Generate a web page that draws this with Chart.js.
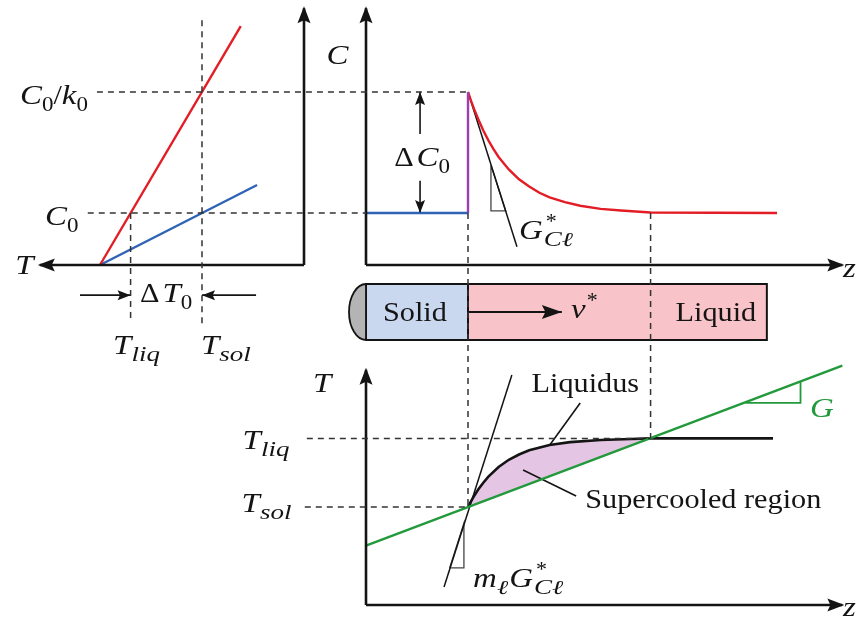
<!DOCTYPE html>
<html>
<head>
<meta charset="utf-8">
<script src="https://cdn.jsdelivr.net/npm/chart.js@4/dist/chart.umd.min.js"></script>
<style>
  html, body { margin: 0; padding: 0; background: #fff; overflow: hidden; }
  canvas { display: block; }
</style>
</head>
<body>
<canvas id="diagram" width="856" height="618"></canvas>
<script>
// ---------- Phase diagram (left): temperature T vs. concentration C (C in units of C0) ----------
const T_MELT = 10;       // melting point of the pure solvent
const C0 = 1.0;          // alloy concentration
const C0_K0 = 3.33;      // C0 / k0  (k0 = 0.3)
const T_LIQ = 8.5;       // liquidus temperature at C0
const T_SOL = 5.0;       // solidus temperature at C0
const liquidusLineT = [10, 3.1];
const liquidusLineC = [0, 4.6];
const solidusLineT = [10, 2.3];
const solidusLineC = [0, 1.54];

// ---------- Concentration profile along z (top right) ----------
const Z_INT = 1.0;       // solid/liquid interface
const Z_BL = 2.79;       // edge of the solute boundary layer
const solidProfileZ = [0, 1.0];
const solidProfileC = [1, 1];
const profileZ = [1.00, 1.03, 1.06, 1.10, 1.15, 1.20, 1.25, 1.30, 1.40, 1.50, 1.60, 1.70, 1.80, 1.95, 2.10, 2.30, 2.50, 2.79, 4.03];
const profileC = [3.33, 3.16, 3.00, 2.81, 2.59, 2.40, 2.23, 2.08, 1.84, 1.65, 1.51, 1.39, 1.30, 1.21, 1.14, 1.08, 1.05, 1.01, 1.00];
const tangentCZ = [1.0, 1.48];
const tangentCC = [3.33, 0.35];
const slopeCZ = [1.225, 1.225, 1.37, 1.225];
const slopeCC = [1.92, 1.04, 1.04, 1.92];

// ---------- Sample bar (middle) ----------
const SAMPLE_END = 3.93;
const VEL_ARROW_END = 1.92;

// ---------- Liquidus temperature ahead of the interface and imposed gradient (bottom right) ----------
const liqTZ = [1.00, 1.025, 1.05, 1.075, 1.10, 1.15, 1.20, 1.30, 1.40, 1.50, 1.60, 1.80, 2.00, 2.30, 2.60, 2.79, 3.99];
const liqTT = [5.00, 5.25, 5.48, 5.69, 5.89, 6.24, 6.55, 7.04, 7.41, 7.68, 7.89, 8.16, 8.31, 8.42, 8.47, 8.50, 8.50];
const gradZ = [0, 4.67];
const gradT = [3.03, 12.21];
const tangentTZ = [0.765, 1.43];
const tangentTT = [0.92, 11.73];
const slopeTZ = [0.82, 0.96, 0.96, 0.82];
const slopeTT = [1.89, 1.89, 4.18, 1.89];
const gSlopeZ = [3.72, 4.26, 4.26];
const gSlopeT = [10.31, 10.31, 11.43];

// ---------- colours ----------
const INK = '#141414';
const RED = '#e31d26';
const BLUE = '#2e63b6';
const PURPLE = '#9b3fb1';
const GREEN = '#22993b';
const GUIDE = '#333333';

const W = 856, H = 618;
const pts = (xs, ys) => xs.map((x, i) => ({ x, y: ys[i] }));

// linear axis placed so that value v0 falls on pixel p0 and v1 on p1
function xAxis(v0, p0, v1, p1) {
  const b = (p1 - p0) / (v1 - v0);
  if (b > 0) {
    const min = v0 - p0 / b;
    return { type: 'linear', display: false, min, max: min + W / b };
  }
  const nb = -b, max = v0 + p0 / nb;
  return { type: 'linear', display: false, reverse: true, min: max - W / nb, max };
}
function yAxis(v0, p0, v1, p1) {
  const nb = (p0 - p1) / (v1 - v0);
  const max = v0 + p0 / nb;
  return { type: 'linear', display: false, min: max - H / nb, max };
}

function line(xs, ys, xID, yID, color, width, extra) {
  return Object.assign({
    data: pts(xs, ys), xAxisID: xID, yAxisID: yID,
    borderColor: color, borderWidth: width, pointRadius: 0, fill: false,
    order: 1, clip: false
  }, extra || {});
}
const AX = { len: 17, hw: 6.5, ext: 2 };
const SMALL = { len: 13, hw: 5, ext: 0 };

const pinkZ = liqTZ.filter(z => z <= Z_BL);
const pinkT = liqTT.slice(0, pinkZ.length);

const datasets = [
  // left panel
  line([0, 12.95], [0, 0], 'xT', 'yC', INK, 2.6, { arrowHead: AX }),
  line([0, 0], [0, 4.94], 'xT', 'yC', INK, 2.6, { arrowHead: AX }),
  line(liquidusLineT, liquidusLineC, 'xT', 'yC', RED, 2.4),
  line(solidusLineT, solidusLineC, 'xT', 'yC', BLUE, 2.4),
  line([10.98, T_LIQ], [-0.58, -0.58], 'xT', 'yC', INK, 1.6, { arrowHead: SMALL }),
  line([2.35, T_SOL], [-0.58, -0.58], 'xT', 'yC', INK, 1.6, { arrowHead: SMALL }),

  // top right panel
  line([0, 0], [0, 4.94], 'xZ', 'yC', INK, 2.6, { arrowHead: AX }),
  line([0, 4.67], [0, 0], 'xZ', 'yC', INK, 2.6, { arrowHead: AX }),
  line(solidProfileZ, solidProfileC, 'xZ', 'yC', BLUE, 2.4),
  line([Z_INT, Z_INT], [C0, C0_K0], 'xZ', 'yC', PURPLE, 2.4),
  line(profileZ, profileC, 'xZ', 'yC', RED, 2.4),
  line(tangentCZ, tangentCC, 'xZ', 'yC', INK, 1.5),
  line(slopeCZ, slopeCC, 'xZ', 'yC', '#444', 1.3),
  line([0.53, 0.53], [2.52, C0_K0], 'xZ', 'yC', INK, 1.6, { arrowHead: SMALL }),
  line([0.53, 0.53], [1.62, C0], 'xZ', 'yC', INK, 1.6, { arrowHead: SMALL }),

  // sample bar
  line([0, Z_INT, Z_INT, 0, 0], [0, 0, 1, 1, 0], 'xZ', 'yS', INK, 2,
       { fill: 'shape', backgroundColor: '#c9d8ef', order: 10 }),
  line([Z_INT, SAMPLE_END, SAMPLE_END, Z_INT, Z_INT], [0, 0, 1, 1, 0], 'xZ', 'yS', INK, 2,
       { fill: 'shape', backgroundColor: '#f8c4c9', order: 10 }),
  line([Z_INT, VEL_ARROW_END], [0.5, 0.5], 'xZ', 'yS', INK, 2, { arrowHead: { len: 20, hw: 7, ext: 0 } }),

  // bottom right panel
  line(pinkZ.concat([pinkZ[0]]), pinkT.concat([pinkT[0]]), 'xZ', 'yT', 'rgba(0,0,0,0)', 0,
       { fill: 'shape', backgroundColor: '#e4c6e4', order: 10 }),
  line([0, 0], [0, 12.0], 'xZ', 'yT', INK, 2.6, { arrowHead: AX }),
  line([0, 4.67], [0, 0], 'xZ', 'yT', INK, 2.6, { arrowHead: AX }),
  line(gradZ, gradT, 'xZ', 'yT', GREEN, 2.4),
  line(gSlopeZ, gSlopeT, 'xZ', 'yT', GREEN, 1.8),
  line(liqTZ, liqTT, 'xZ', 'yT', INK, 2.6),
  line(tangentTZ, tangentTT, 'xZ', 'yT', INK, 1.5),
  line(slopeTZ, slopeTT, 'xZ', 'yT', '#444', 1.3),
  line([2.10, 1.80], [10.31, 8.15], 'xZ', 'yT', INK, 1.6),
  line([2.06, 1.54], [5.56, 6.89], 'xZ', 'yT', INK, 1.6)
];

// dashed guide lines, endpoints given as [xScale, x, yScale, y]
const guides = [
  [['xT', 10.15, 'yC', C0_K0], ['xZ', Z_INT, 'yC', C0_K0]],
  [['xT', 10.6, 'yC', C0], ['xZ', 0, 'yC', C0]],
  [['xT', T_SOL, 'yC', 4.71], ['xT', T_SOL, 'yC', -1.12]],
  [['xT', T_LIQ, 'yC', C0], ['xT', T_LIQ, 'yC', -1.1]],
  [['xZ', Z_INT, 'yC', C0], ['xZ', Z_INT, 'yT', T_SOL]],
  [['xZ', Z_BL, 'yC', C0], ['xZ', Z_BL, 'yT', T_LIQ]],
  [['xZ', -0.58, 'yT', T_LIQ], ['xZ', Z_BL, 'yT', T_LIQ]],
  [['xZ', -0.6, 'yT', T_SOL], ['xZ', Z_INT, 'yT', T_SOL]]
];

// ---------- text ----------
const SERIF = '"Liberation Serif", "DejaVu Serif", serif';
const M = 27, S = 20;       // main / script sizes
const it = (t, o) => Object.assign({ t, size: M, italic: true, sx: 1.22 }, o || {});
const rm = (t, o) => Object.assign({ t, size: M, italic: false, sx: 1.12 }, o || {});
const sub = (t, italic, o) => Object.assign({ t, size: S, italic: !!italic, sx: italic ? 1.35 : 1.15, dy: 7 }, o || {});
const sup = (t, o) => Object.assign({ t, size: S, italic: false, sx: 1.1, dy: -11 }, o || {});
const gStar = () => [it('G'), { stack: [sup('*', { dx: 3 }), sub('Cℓ', true, { dx: 1 })] }];

const labels = [
  { runs: [it('T')], x: ['xT', 13.7], y: ['yC', 0], align: 'center' },
  { runs: [it('C'), sub('0'), rm('/'), it('k'), sub('0')], x: ['xT', 10.59], y: ['yC', 3.27], align: 'right' },
  { runs: [it('C'), sub('0')], x: ['xT', 11.06], y: ['yC', 0.94], align: 'right' },
  { runs: [rm('Δ', { kern: 3 }), it('T'), sub('0')], x: ['xT', 6.76], y: ['yC', -0.54], align: 'center' },
  { runs: [it('T'), sub('liq', true)], x: ['xT', 9.36], y: ['yC', -1.54], align: 'left' },
  { runs: [it('T'), sub('sol', true)], x: ['xT', 5.05], y: ['yC', -1.54], align: 'left' },

  { runs: [it('C')], x: ['xZ', -0.28], y: ['yC', 4.04], align: 'center' },
  { runs: [rm('Δ', { kern: 3 }), it('C'), sub('0')], x: ['xZ', 0.55], y: ['yC', 2.08], align: 'center' },
  { runs: gStar(), x: ['xZ', 1.50], y: ['yC', 0.67], align: 'left' },
  { runs: [it('z')], x: ['xZ', 4.74], y: ['yC', -0.06], align: 'center' },

  { runs: [rm('Solid')], x: ['xZ', 0.48], y: ['yS', 0.5], align: 'center' },
  { runs: [it('v'), sup('*', { dx: 1 })], x: ['xZ', 2.01], y: ['yS', 0.55], align: 'left' },
  { runs: [rm('Liquid')], x: ['xZ', 3.43], y: ['yS', 0.5], align: 'center' },

  { runs: [it('T')], x: ['xZ', -0.43], y: ['yT', 11.33], align: 'center' },
  { runs: [it('T'), sub('liq', true)], x: ['xZ', -1.21], y: ['yT', 8.42], align: 'left' },
  { runs: [it('T'), sub('sol', true)], x: ['xZ', -1.22], y: ['yT', 5.2], align: 'left' },
  { runs: [rm('Liquidus')], x: ['xZ', 2.15], y: ['yT', 11.33], align: 'center' },
  { runs: [rm('Supercooled region')], x: ['xZ', 2.15], y: ['yT', 5.41], align: 'left' },
  { runs: [it('G')], x: ['xZ', 4.47], y: ['yT', 10.05], align: 'center', color: GREEN },
  { runs: [it('m'), sub('ℓ', true, { kern: 1 })].concat(gStar()), x: ['xZ', 1.05], y: ['yT', 1.38], align: 'left' },
  { runs: [it('z')], x: ['xZ', 4.74], y: ['yT', -0.1], align: 'center' }
];

function fontOf(r) { return (r.italic ? 'italic ' : '') + r.size + 'px ' + SERIF; }

function drawRuns(ctx, runs, x, yc, align, color) {
  const placed = [];
  let cx = 0;
  for (const r of runs) {
    if (r.stack) {
      let w = 0;
      for (const p of r.stack) {
        ctx.font = fontOf(p);
        const m = ctx.measureText(p.t).width * p.sx;
        placed.push({ r: p, x: cx + (p.dx || 0) });
        w = Math.max(w, m + (p.dx || 0));
      }
      cx += w;
    } else {
      ctx.font = fontOf(r);
      const m = ctx.measureText(r.t).width * r.sx;
      placed.push({ r, x: cx + (r.dx || 0) });
      cx += m + (r.dx || 0) + (r.kern || 0);
    }
  }
  const x0 = align === 'center' ? x - cx / 2 : align === 'right' ? x - cx : x;
  const base = yc + M * 0.33;
  ctx.fillStyle = color || INK;
  ctx.textBaseline = 'alphabetic';
  ctx.textAlign = 'left';
  for (const p of placed) {
    ctx.save();
    ctx.font = fontOf(p.r);
    ctx.translate(x0 + p.x, base + (p.r.dy || 0));
    ctx.scale(p.r.sx, 1);
    ctx.fillText(p.r.t, 0, 0);
    ctx.restore();
  }
}

function arrowHead(ctx, a, b, spec, color) {
  const ang = Math.atan2(b.y - a.y, b.x - a.x);
  const c = Math.cos(ang), s = Math.sin(ang);
  const tx = b.x + c * spec.ext, ty = b.y + s * spec.ext;
  const bx = tx - c * spec.len, by = ty - s * spec.len;
  ctx.beginPath();
  ctx.moveTo(tx, ty);
  ctx.lineTo(bx - s * spec.hw, by + c * spec.hw);
  ctx.lineTo(bx + c * spec.len * 0.18, by + s * spec.len * 0.18);
  ctx.lineTo(bx + s * spec.hw, by - c * spec.hw);
  ctx.closePath();
  ctx.fillStyle = color;
  ctx.fill();
}

const extras = {
  id: 'diagramExtras',
  afterDatasetsDraw(chart) {
    const ctx = chart.ctx, sc = chart.scales;
    const P = (id, v) => sc[id].getPixelForValue(v);

    // rounded end cap of the sample
    const capX = P('xZ', 0), capTop = P('yS', 1), capBot = P('yS', 0);
    ctx.save();
    ctx.beginPath();
    ctx.ellipse(capX, (capTop + capBot) / 2, 17, (capBot - capTop) / 2, 0, Math.PI / 2, Math.PI * 3 / 2);
    ctx.closePath();
    ctx.fillStyle = '#b4b4b4';
    ctx.fill();
    ctx.lineWidth = 1.8;
    ctx.strokeStyle = INK;
    ctx.stroke();
    ctx.restore();

    // dashed guides
    ctx.save();
    ctx.setLineDash([6, 5]);
    ctx.lineWidth = 1.5;
    ctx.strokeStyle = GUIDE;
    for (const [a, b] of guides) {
      ctx.beginPath();
      ctx.moveTo(P(a[0], a[1]), P(a[2], a[3]));
      ctx.lineTo(P(b[0], b[1]), P(b[2], b[3]));
      ctx.stroke();
    }
    ctx.restore();

    // arrowheads on the ends of arrow datasets
    chart.data.datasets.forEach((ds, i) => {
      if (!ds.arrowHead) return;
      const el = chart.getDatasetMeta(i).data;
      arrowHead(ctx, el[el.length - 2], el[el.length - 1], ds.arrowHead, ds.borderColor);
    });

    // labels
    for (const l of labels) {
      drawRuns(ctx, l.runs, P(l.x[0], l.x[1]), P(l.y[0], l.y[1]), l.align, l.color);
    }
  }
};

new Chart(document.getElementById('diagram'), {
  type: 'line',
  data: { datasets },
  options: {
    responsive: false,
    animation: false,
    devicePixelRatio: 1,
    layout: { padding: 0 },
    events: [],
    plugins: { legend: { display: false }, tooltip: { enabled: false }, title: { display: false } },
    elements: { line: { tension: 0, borderCapStyle: 'butt', borderJoinStyle: 'miter' } },
    scales: {
      xT: xAxis(0, 304, T_MELT, 100),
      xZ: xAxis(0, 366, Z_INT, 468),
      yC: yAxis(0, 265, C0_K0, 92),
      yS: yAxis(0, 340, 1, 284),
      yT: yAxis(0, 605, T_SOL, 507)
    }
  },
  plugins: [extras]
});
</script>
</body>
</html>
